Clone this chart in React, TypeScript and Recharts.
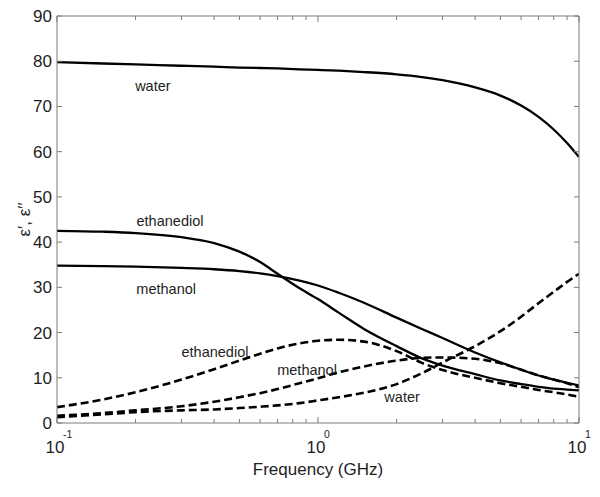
import React from 'react';
import { LineChart, Line, XAxis, YAxis, ReferenceDot } from 'recharts';

// Frequency grid (GHz)
const freqGHz = [0.1, 0.15, 0.2, 0.3, 0.4, 0.5, 0.6, 0.7, 0.85, 1, 1.2, 1.5, 2, 2.5, 3, 4, 5, 6, 7, 8, 9, 10];

// Real parts (solid)
const waterReal = [79.8, 79.5, 79.3, 79.0, 78.8, 78.6, 78.5, 78.4, 78.2, 78.1, 77.9, 77.6, 77.1, 76.5, 75.8, 74.2, 72.4, 70.2, 67.7, 64.9, 61.9, 58.8];
const ethanediolReal = [42.5, 42.3, 42.0, 41.1, 39.8, 37.9, 35.6, 33.0, 29.8, 27.4, 24.4, 20.8, 17.0, 14.3, 12.7, 10.8, 9.4, 8.6, 8.0, 7.6, 7.4, 7.2];
const methanolReal = [34.8, 34.7, 34.6, 34.3, 34.0, 33.6, 33.1, 32.5, 31.5, 30.4, 28.8, 26.6, 23.3, 20.8, 18.8, 15.6, 13.4, 11.8, 10.5, 9.6, 8.9, 8.3];

// Imaginary parts (dashed)
const waterImag = [1.3, 1.9, 2.4, 2.8, 3.0, 3.3, 3.6, 3.9, 4.4, 5.0, 5.7, 6.7, 8.6, 11.0, 13.4, 17.0, 20.3, 23.5, 26.5, 29.0, 31.2, 33.0];
const ethanediolImag = [3.5, 5.2, 6.8, 9.6, 11.9, 13.8, 15.3, 16.5, 17.6, 18.2, 18.4, 18.0, 15.9, 13.3, 11.7, 10.0, 8.8, 8.0, 7.3, 6.8, 6.3, 5.8];
const methanolImag = [1.6, 2.2, 2.8, 3.7, 4.7, 5.7, 6.6, 7.5, 8.8, 9.9, 11.2, 12.5, 13.8, 14.4, 14.5, 14.2, 13.2, 11.8, 10.5, 9.6, 8.8, 7.9];

// Axis ticks
const majorFreqTicks = [0.1, 1, 10];
const majorExponents = ['-1', '0', '1'];
const minorFreqTicks = [0.2, 0.3, 0.4, 0.5, 0.6, 0.7, 0.8, 0.9, 2, 3, 4, 5, 6, 7, 8, 9];
const yTicks = [0, 10, 20, 30, 40, 50, 60, 70, 80, 90];

// Curve annotations
const labelTexts = ['water', 'ethanediol', 'methanol', 'ethanediol', 'methanol', 'water'];
const labelFreq = [0.233, 0.271, 0.262, 0.403, 0.908, 2.1];
const labelValue = [74.5, 44.7, 29.6, 15.7, 11.7, 5.7];

const xTicks = [...majorFreqTicks, ...minorFreqTicks].sort((a, b) => a - b);

const data = freqGHz.map((f, i) => ({
  f,
  waterReal: waterReal[i],
  ethanediolReal: ethanediolReal[i],
  methanolReal: methanolReal[i],
  waterImag: waterImag[i],
  ethanediolImag: ethanediolImag[i],
  methanolImag: methanolImag[i],
}));

const FONT = '"Liberation Sans", Arial, Helvetica, sans-serif';
const FRAME = '#7a7a7a';
const TEXT = '#1e1e1e';

const BottomTick = (props: any) => {
  const { x, y, payload } = props;
  const v = payload.value;
  const mi = majorFreqTicks.indexOf(v);
  const major = mi >= 0;
  const len = major ? 6 : 4;
  return (
    <g>
      <line x1={x} y1={y} x2={x} y2={y - len} stroke={FRAME} strokeWidth={1} />
      {major && (
        <g>
          <text x={x - 2} y={y + 30} textAnchor="middle" fontSize={17} fontFamily={FONT} fill={TEXT}>10</text>
          <text x={x + 6} y={y + 15} textAnchor="start" fontSize={10.5} fontFamily={FONT} fill={TEXT}>{majorExponents[mi]}</text>
        </g>
      )}
    </g>
  );
};

const TopTick = (props: any) => {
  const { x, y, payload } = props;
  const major = majorFreqTicks.indexOf(payload.value) >= 0;
  const len = major ? 6 : 4;
  return <line x1={x} y1={y} x2={x} y2={y + len} stroke={FRAME} strokeWidth={1} />;
};

const LeftTick = (props: any) => {
  const { x, y, payload } = props;
  return (
    <g>
      <line x1={x} y1={y} x2={x + 5} y2={y} stroke={FRAME} strokeWidth={1} />
      <text x={x - 5} y={y + 6} textAnchor="end" fontSize={17} fontFamily={FONT} fill={TEXT}>{payload.value}</text>
    </g>
  );
};

const RightTick = (props: any) => {
  const { x, y } = props;
  return <line x1={x} y1={y} x2={x - 5} y2={y} stroke={FRAME} strokeWidth={1} />;
};

const YLabel = (props: any) => {
  const vb = props.viewBox || { x: 0, y: 16, width: 57, height: 407 };
  const cx = vb.x + 30;
  const cy = vb.y + vb.height / 2;
  return (
    <text transform={`translate(${cx}, ${cy}) rotate(-90)`} textAnchor="middle" fontSize={17} fontFamily={FONT} fill={TEXT}>
      ε′, ε′′
    </text>
  );
};

const XLabel = (props: any) => {
  const vb = props.viewBox || { x: 57, y: 423, width: 522, height: 74 };
  return (
    <text x={vb.x + vb.width / 2} y={vb.y + 52} textAnchor="middle" fontSize={17} fontFamily={FONT} fill={TEXT}>
      Frequency (GHz)
    </text>
  );
};

const solidKeys = ['waterReal', 'ethanediolReal', 'methanolReal'];
const dashedKeys = ['waterImag', 'ethanediolImag', 'methanolImag'];

export default function App() {
  return (
    <div style={{ position: 'absolute', left: 0, top: 0, background: '#fff' }}>
      <LineChart width={600} height={497} data={data} margin={{ top: 0, right: 0, bottom: 0, left: 0 }}>
        <XAxis
          xAxisId="b"
          dataKey="f"
          type="number"
          scale="log"
          domain={[0.1, 10]}
          allowDataOverflow
          ticks={xTicks}
          interval={0}
          tickSize={0}
          tickMargin={0}
          tickLine={false}
          height={74}
          axisLine={{ stroke: FRAME, strokeWidth: 1 }}
          tick={<BottomTick />}
          label={<XLabel />}
        />
        <XAxis
          xAxisId="t"
          orientation="top"
          dataKey="f"
          type="number"
          scale="log"
          domain={[0.1, 10]}
          allowDataOverflow
          ticks={xTicks}
          interval={0}
          tickSize={0}
          tickMargin={0}
          tickLine={false}
          height={16}
          axisLine={{ stroke: FRAME, strokeWidth: 1 }}
          tick={<TopTick />}
        />
        <YAxis
          yAxisId="l"
          type="number"
          domain={[0, 90]}
          allowDataOverflow
          ticks={yTicks}
          interval={0}
          tickSize={0}
          tickMargin={0}
          tickLine={false}
          width={57}
          axisLine={{ stroke: FRAME, strokeWidth: 1 }}
          tick={<LeftTick />}
          label={<YLabel />}
        />
        <YAxis
          yAxisId="r"
          orientation="right"
          type="number"
          domain={[0, 90]}
          allowDataOverflow
          ticks={yTicks}
          interval={0}
          tickSize={0}
          tickMargin={0}
          tickLine={false}
          width={21}
          axisLine={{ stroke: FRAME, strokeWidth: 1 }}
          tick={<RightTick />}
        />
        {solidKeys.map((k) => (
          <Line
            key={k}
            xAxisId="b"
            yAxisId="l"
            type="monotone"
            dataKey={k}
            stroke="#000"
            strokeWidth={2.3}
            dot={false}
            activeDot={false}
            isAnimationActive={false}
          />
        ))}
        {dashedKeys.map((k) => (
          <Line
            key={k}
            xAxisId="b"
            yAxisId="l"
            type="monotone"
            dataKey={k}
            stroke="#000"
            strokeWidth={2.6}
            strokeDasharray="8 4"
            dot={false}
            activeDot={false}
            isAnimationActive={false}
          />
        ))}
        {labelTexts.map((t, i) => (
          <ReferenceDot
            key={i}
            xAxisId="b"
            yAxisId="l"
            x={labelFreq[i]}
            y={labelValue[i]}
            r={0}
            fill="none"
            stroke="none"
            ifOverflow="visible"
            label={{ value: t, position: 'center', fontSize: 14.5, fill: TEXT, fontFamily: FONT }}
          />
        ))}
      </LineChart>
    </div>
  );
}
